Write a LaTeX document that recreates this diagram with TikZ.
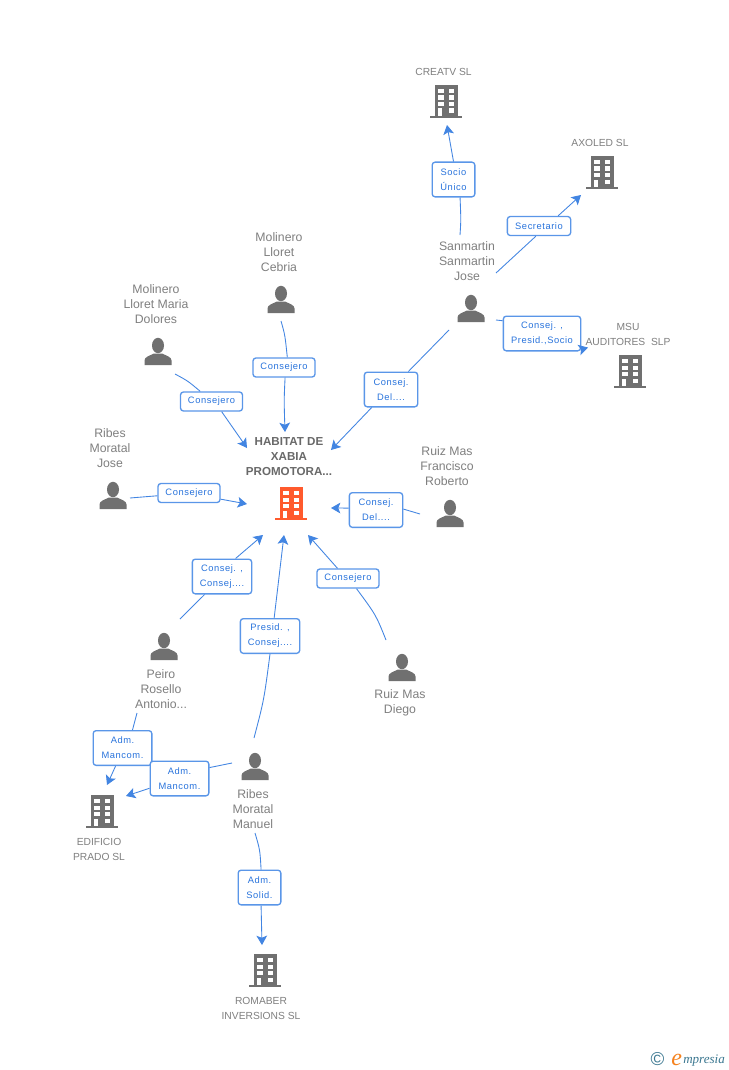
\documentclass[tikz,border=0pt]{standalone}
\usepackage{fontspec}
\setmainfont{Liberation Sans}
\newfontfamily\logofont{Liberation Serif}
\usetikzlibrary{arrows.meta,shadings}
\definecolor{linkblue}{RGB}{66,133,226}
\definecolor{boxblue}{RGB}{90,150,232}
\definecolor{tagblue}{RGB}{40,115,220}
\definecolor{greytext}{RGB}{128,128,128}
\definecolor{titlegrey}{RGB}{105,105,105}
\definecolor{icongrey}{RGB}{112,112,112}
\definecolor{iconorange}{RGB}{255,90,45}
\definecolor{logoteal}{RGB}{60,120,145}
\definecolor{logoorange}{RGB}{245,130,30}
\tikzset{
  x=0.75pt,y=-0.75pt,
  tag/.style={draw=boxblue,line width=1pt,rounded corners=2.2pt,top color=white,bottom color=white,
    font=\fontsize{7}{11.25}\selectfont\addfontfeature{LetterSpace=6},text=tagblue,align=center,inner sep=0pt},
  tagone/.style={tag,minimum height=14.25pt},
  tagtwo/.style={tag,minimum height=26pt},
  person label/.style={font=\fontsize{9.2}{11.25}\selectfont,text=greytext,align=center,inner sep=0pt},
  company label/.style={font=\fontsize{7.7}{11.25}\selectfont,text=greytext,align=center,inner sep=0pt},
  title label/.style={font=\fontsize{8.7}{11.25}\selectfont\bfseries,text=titlegrey,align=center,inner sep=0pt},
  link/.style={draw=linkblue,line width=0.65pt},
  arrowlink/.style={link,-{Stealth[length=7pt,width=8pt,inset=1.6pt]}},
  bldg/.pic={
    \fill[pic actions] (-16,0) rectangle (16,-2);
    \fill[pic actions] (-11.5,-1) rectangle (11.5,-33);
    \foreach \r in {-29,-22.5,-16}{
      \fill[white] (-8,\r) rectangle (-2.5,\r+4.3);
      \fill[white] (2.5,\r) rectangle (8,\r+4.3);
    }
    \fill[white] (-8,-9.5) rectangle (-3.7,-2);
    \fill[white] (2.5,-9.5) rectangle (8,-5);
  },
  personicon/.pic={
    \fill[icongrey] (0,-19.5) ellipse [x radius=6,y radius=7.7];
    \fill[icongrey] (-13.5,0) -- (-13.5,-4.5) .. controls (-13.5,-8) and (-9,-9) .. (-4,-11.5)
      -- (4,-11.5) .. controls (9,-9) and (13.5,-8) .. (13.5,-4.5) -- (13.5,0) -- cycle;
  }
}
\begin{document}
\begin{tikzpicture}
\useasboundingbox (0,0) rectangle (728,1070);
\fill[white] (0,0) rectangle (728,1070);

% icons
\path[fill=icongrey] (446,118) pic {bldg};
\path[fill=icongrey] (602,189) pic {bldg};
\path[fill=icongrey] (630,388) pic {bldg};
\path[fill=iconorange] (291,520) pic {bldg};
\path[fill=icongrey] (102,828) pic {bldg};
\path[fill=icongrey] (265,987) pic {bldg};
\path (471,322) pic {personicon};
\path (281,313) pic {personicon};
\path (158,365) pic {personicon};
\path (113,509) pic {personicon};
\path (450,527) pic {personicon};
\path (164,660) pic {personicon};
\path (402,681) pic {personicon};
\path (255,780) pic {personicon};

% labels
\node[company label] (creatv) at (443.5,71.5) {CREATV SL};
\node[company label] (axoled) at (600,142.7) {AXOLED SL};
\node[company label] (msu) at (628,334.3) {MSU\\AUDITORES\ \ SLP};
\node[title label] (habitat) at (289,456.8) {HABITAT DE\\XABIA\\PROMOTORA...};
\node[company label] (edificio) at (99,849.3) {EDIFICIO\\PRADO SL};
\node[company label] (romaber) at (261,1008.3) {ROMABER\\INVERSIONS SL};
\node[person label] (sanmartin) at (467,261) {Sanmartin\\Sanmartin\\Jose};
\node[person label] (cebria) at (279,252) {Molinero\\Lloret\\Cebria};
\node[person label] (dolores) at (156,304) {Molinero\\Lloret Maria\\Dolores};
\node[person label] (rjose) at (110,448) {Ribes\\Moratal\\Jose};
\node[person label] (francisco) at (447,466) {Ruiz Mas\\Francisco\\Roberto};
\node[person label] (peiro) at (161,689) {Peiro\\Rosello\\Antonio...};
\node[person label] (diego) at (400,703) {Ruiz Mas\\Diego};
\node[person label] (manuel) at (253,809) {Ribes\\Moratal\\Manuel};

% relation boxes
\node[tagtwo,minimum width=32pt] (b1) at (453.5,179.5) {Socio\\Único};
\node[tagone,minimum width=47.5pt] (b2) at (539,226) {Secretario};
\node[tagtwo,minimum width=58pt] (b3) at (542,333.5) {Consej. ,\\Presid.,Socio};
\node[tagtwo,minimum width=40pt] (b4) at (391,389.5) {Consej.\\Del....};
\node[tagone,minimum width=46.5pt] (b5) at (284,367.5) {Consejero};
\node[tagone,minimum width=46.5pt] (b6) at (211.5,401.5) {Consejero};
\node[tagone,minimum width=46.5pt] (b7) at (189,493) {Consejero};
\node[tagtwo,minimum width=40pt] (b8) at (376,510) {Consej.\\Del....};
\node[tagtwo,minimum width=44.5pt] (b9) at (222,576.5) {Consej. ,\\Consej....};
\node[tagtwo,minimum width=44.5pt] (b10) at (270,636) {Presid. ,\\Consej....};
\node[tagone,minimum width=46.5pt] (b11) at (348,578.5) {Consejero};
\node[tagtwo,minimum width=44pt] (b12) at (122.5,748) {Adm.\\Mancom.};
\node[tagtwo,minimum width=44pt] (b13) at (179.5,778.5) {Adm.\\Mancom.};
\node[tagtwo,minimum width=32pt] (b14) at (259.5,887.5) {Adm.\\Solid.};

% free ends
\coordinate (s1) at (460,235);   \coordinate (t1) at (447,125);
\coordinate (s2) at (496,273);   \coordinate (t2) at (581,195);
\coordinate (s3) at (496,320);   \coordinate (t3) at (588,347.5);
\coordinate (s4) at (449,330);   \coordinate (t4) at (331,450);
\coordinate (s5) at (281,321);   \coordinate (t5) at (285,432);
\coordinate (s6) at (175,374);   \coordinate (t6) at (247,448);
\coordinate (s7) at (130,498);   \coordinate (t7) at (247,504);
\coordinate (s8) at (420,514);   \coordinate (t8) at (331,508);
\coordinate (s9) at (180,619);   \coordinate (t9) at (263,535);
\coordinate (s10) at (254,738);  \coordinate (t10) at (284,535);
\coordinate (s11) at (386,640);  \coordinate (t11) at (308,535);
\coordinate (s12) at (137,713);  \coordinate (t12) at (107,785);
\coordinate (s13) at (232,763);  \coordinate (t13) at (126,796);
\coordinate (s14) at (255,833);  \coordinate (t14) at (262,945);

% connectors
\draw[link] (s1) .. controls (461,220) .. (b1.-70);
\draw[arrowlink] (b1.90) -- (t1);
\draw[link] (s2) -- (b2.-107);
\draw[arrowlink] (b2.28) -- (t2);
\draw[link] (s3) -- (b3.162);
\draw[arrowlink] (b3.-22) -- (t3);
\draw[link] (s4) -- (b4.46);
\draw[arrowlink] (b4.223) -- (t4);
\draw[link] (s5) .. controls (285,335) .. (b5.72);
\draw[arrowlink] (b5.-84) .. controls (284,400) .. (t5);
\draw[link] (s6) .. controls (188,381) .. (b6.138);
\draw[arrowlink] (b6.-45) -- (t6);
\draw[link] (s7) -- (b7.185);
\draw[arrowlink] (b7.-11) -- (t7);
\draw[link] (s8) -- (b8.2);
\draw[arrowlink] (b8.176) -- (t8);
\draw[link] (s9) -- (b9.226);
\draw[arrowlink] (b9.53) -- (t9);
\draw[link] (s10) .. controls (264,700) .. (b10.-90);
\draw[arrowlink] (b10.77) -- (t10);
\draw[link] (s11) .. controls (376,615) .. (b11.-50);
\draw[arrowlink] (b11.136) -- (t11);
\draw[link] (s12) -- (b12.61);
\draw[arrowlink] (b12.-111) -- (t12);
\draw[link] (s13) -- (b13.20);
\draw[arrowlink] (b13.198) -- (t13);
\draw[link] (s14) .. controls (260,850) .. (b14.85);
\draw[arrowlink] (b14.-85) -- (t14);

% logo
\node[inner sep=0pt,text=logoteal,font=\fontsize{14}{14}\selectfont] (copy) at (657.5,1059) {©};
\node[anchor=base west,inner sep=0pt,text=logoorange,font=\logofont\itshape\fontsize{18}{18}\selectfont] (logoe) at (671,1065) {e};
\node[anchor=base west,inner sep=0pt,text=logoteal,font=\logofont\itshape\fontsize{9.8}{10}\selectfont] (logot) at (683,1063.5) {mpresia};
\end{tikzpicture}
\end{document}
